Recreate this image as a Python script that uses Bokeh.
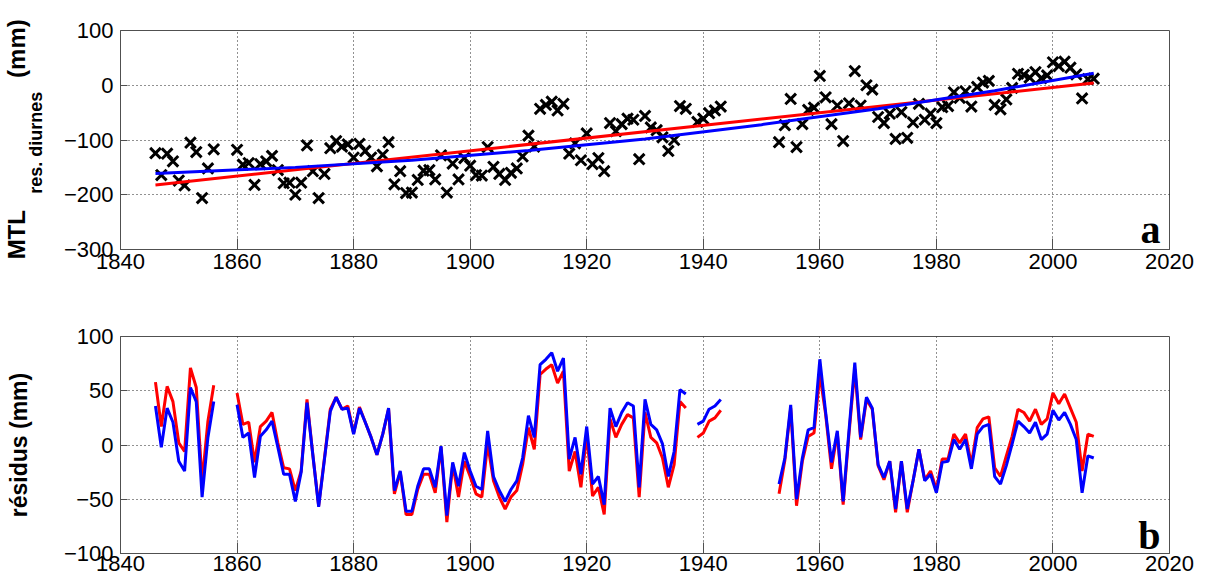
import math
from bokeh.plotting import figure
from bokeh.layouts import column
from bokeh.models import Range1d, FixedTicker, LinearAxis
from bokeh.core.properties import value
from bokeh.embed import file_html
from bokeh.resources import INLINE

NaN = float("nan")

# ---------------- data ----------------
years = list(range(1846, 2008))

# panel a : MTL res. diurnes (mm), one value per year (NaN = missing)
mtl = [
    -124, -164, -125, -139, -174, -183, -105, -122, -206, -152, -117,          # 1846-1856
    NaN, NaN, NaN,                                                             # 1857-1859
    -118, -145, -142, -182, -144, -139, -129, -155, -179, -178,                # 1860-1869
    -200, -178, -110, -157, -206, -162, -115, -102, -112, -108,                # 1870-1879
    -132, -107, -120, -132, -148, -127, -104, -181, -157, -197,                # 1880-1889
    -196, -173, -156, -155, -172, -128, -196, -143, -172, -133,                # 1890-1899
    -147, -164, -165, -113, -149, -162, -173, -160, -152, -130,                # 1900-1909
    -92, -112, -43, -36, -30, -46, -34, -125, -106, -137,                      # 1910-1919
    -88, -144, -133, -157, -69, -84, -71, -61, -63, -135,                      # 1920-1929
    -56, -77, -82, -95, -120, -100, -38, -43, NaN, -67,                        # 1930-1939
    -61, -51, -46, -39, NaN, NaN, NaN, NaN, NaN, NaN,                          # 1940-1949
    NaN, NaN, NaN, -104, -73, -25, -113, -71, -45, -41,                        # 1950-1959
    17, -22, -71, -37, -102, -33, 26, -37, 0, -8,                              # 1960-1969
    -58, -69, -52, -98, -49, -96, -68, -34, -63, -52,                          # 1970-1979
    -69, -40, -38, -13, -23, -11, -39, -3, 5, 8,                               # 1980-1989
    -36, -44, -26, -5, 21, 19, 14, 24, 13, 18,                                 # 1990-1999
    42, 35, 43, 32, 20, -24, 11, 12,                                           # 2000-2007
]

# trend lines of panel a
red_trend_years = [1846, 2007]
red_trend_vals = [-182, 4]
blue_trend_years = [1846, 1870, 1890, 1910, 1930, 1950, 1970, 1990, 2007]
blue_trend_vals = [-161, -150, -137, -119, -98, -72, -43, -10, 22]

# panel b : residuals (mm)
resid_red = [
    58, 17, 54, 40, 2, -6, 71, 53, -34, 22, 55,                                # 1846-1856
    NaN, NaN, NaN,
    48, 19, 21, -16, 17, 22, 30, 2, -21, -22,                                  # 1860-1869
    -42, -24, 42, -9, -56, -12, 33, 44, 33, 36,                                # 1870-1879
    11, 35, 21, 7, -9, 10, 33, -45, -25, -64,                                  # 1880-1889
    -64, -41, -27, -27, -44, -2, -71, -18, -48, -15,                           # 1890-1899
    -29, -45, -48, 1, -33, -48, -59, -48, -42, -18,                            # 1900-1909
    16, -4, 65, 70, 74, 57, 68, -24, -6, -39,                                  # 1910-1919
    10, -47, -39, -64, 24, 7, 19, 28, 25, -48,                                 # 1920-1929
    30, 7, 2, -12, -39, -18, 40, 34, NaN, 7,                                   # 1930-1939
    11, 22, 25, 32, NaN, NaN, NaN, NaN, NaN, NaN,                              # 1940-1949
    NaN, NaN, NaN, -45, -14, 34, -56, -15, 8, 11,                              # 1950-1959
    65, 28, -22, 11, -55, 10, 70, 5, 42, 33,                                   # 1960-1969
    -19, -32, -15, -62, -15, -62, -33, -4, -32, -24,                           # 1970-1979
    -41, -13, -13, 10, 2, 10, -18, 16, 24, 26,                                 # 1980-1989
    -21, -29, -10, 8, 33, 30, 22, 33, 19, 24,                                  # 1990-1999
    48, 38, 47, 34, 21, -24, 10, 8,                                            # 2000-2007
]
resid_blue = [
    36, -2, 34, 21, -15, -24, 53, 40, -48, 7, 40,                              # 1846-1856
    NaN, NaN, NaN,
    37, 7, 11, -30, 8, 14, 22, -2, -27, -27,                                   # 1860-1869
    -52, -25, 39, -9, -57, -13, 31, 44, 33, 34,                                # 1870-1879
    10, 34, 21, 7, -9, 10, 34, -42, -24, -61,                                  # 1880-1889
    -61, -38, -22, -22, -39, -1, -65, -16, -38, -7,                            # 1890-1899
    -24, -38, -41, 13, -29, -42, -52, -41, -33, -12,                           # 1900-1909
    27, 7, 74, 79, 85, 68, 80, -13, 7, -27,                                    # 1910-1919
    17, -36, -29, -55, 34, 17, 30, 39, 36, -39,                                # 1920-1929
    42, 19, 14, 1, -29, -6, 51, 47, NaN, 19,                                   # 1930-1939
    22, 33, 36, 42, NaN, NaN, NaN, NaN, NaN, NaN,                              # 1940-1949
    NaN, NaN, NaN, -36, -12, 37, -50, -12, 14, 16,                             # 1950-1959
    79, 30, -16, 13, -52, 13, 76, 7, 44, 34,                                   # 1960-1969
    -18, -30, -15, -59, -15, -59, -33, -4, -33, -27,                           # 1970-1979
    -44, -16, -15, 5, -4, 5, -22, 10, 17, 19,                                  # 1980-1989
    -29, -36, -19, 1, 22, 17, 11, 21, 5, 10,                                   # 1990-1999
    32, 23, 30, 19, 5, -44, -10, -12,                                          # 2000-2007
]

x_ticks = [1840, 1860, 1880, 1900, 1920, 1940, 1960, 1980, 2000, 2020]
ya_ticks = [-300, -200, -100, 0, 100]
yb_ticks = [-100, -50, 0, 50, 100]

# ---------------- layout constants (screen pixels) ----------------
W = 1203
LEFT, RIGHT = 118, 1203 - 1169
H1, TOP1, BOT1 = 298, 30, 298 - 249
H2, TOP2 = 284, 336 - 298
BOT2 = H1 + H2 - 553
XMIN, XMAX = 1840, 2020
FONT = "Liberation Sans"
AXC = "#505050"


def style(p, yticks, xstand):
    p.xaxis.ticker = FixedTicker(ticks=x_ticks)
    p.yaxis.ticker = FixedTicker(ticks=yticks)
    for ax in (p.xaxis[0], p.yaxis[0]):
        ax.major_label_text_font = FONT
        ax.major_label_text_font_size = "22px"
        ax.major_label_text_color = "black"
        ax.axis_line_color = AXC
        ax.major_tick_line_color = AXC
        ax.major_tick_out = 0
        ax.minor_tick_line_color = None
    p.xaxis.major_tick_in = 11
    p.yaxis.major_tick_in = 7
    p.xaxis.major_label_standoff = xstand
    p.yaxis.major_label_standoff = 7
    for g in (p.xgrid[0], p.ygrid[0]):
        g.grid_line_color = "#222222"
        g.grid_line_dash = "1 3"
        g.grid_line_width = 1
    p.outline_line_color = AXC
    p.outline_line_width = 1
    p.background_fill_color = "white"
    p.border_fill_color = "white"


def title_axis(p, ticks, texts, size, standoff):
    # an invisible extra left axis whose (vertical) tick labels form the y title
    ax = LinearAxis(ticker=FixedTicker(ticks=ticks),
                    major_label_overrides=dict(zip(ticks, texts)),
                    major_label_orientation="vertical",
                    major_label_standoff=standoff,
                    major_label_text_font=FONT,
                    major_label_text_font_style="bold",
                    major_label_text_font_size=size,
                    major_label_text_color="black",
                    axis_line_color=None, major_tick_line_color=None,
                    minor_tick_line_color=None, major_tick_in=0, major_tick_out=0)
    p.add_layout(ax, "left")
    return ax


# ---------------- panel a ----------------
p1 = figure(width=W, height=H1, output_backend="svg", toolbar_location=None,
            x_range=Range1d(XMIN, XMAX), y_range=Range1d(-300, 100),
            min_border_left=LEFT, min_border_right=RIGHT,
            min_border_top=TOP1, min_border_bottom=BOT1)
style(p1, ya_ticks, 4)
p1.scatter(years, mtl, marker="x", size=15, line_width=3, color="black")
p1.line(red_trend_years, red_trend_vals, line_color="#ff0000", line_width=3)
p1.line(blue_trend_years, blue_trend_vals, line_color="#0000ff", line_width=3)

fw = W - LEFT - RIGHT
fh1 = H1 - TOP1 - BOT1


def dx(px):
    return XMIN + (px - LEFT) * (XMAX - XMIN) / fw


def dy1(py):
    return 100 - (py - TOP1) * 400 / fh1


# y title "MTL_res. diurnes (mm)" built from vertical tick labels
title_axis(p1, [round(dy1(142.5))], ["res. diurnes"], "18px", 14)
title_axis(p1, [round(dy1(234)), round(dy1(48))], ["MTL", "(mm)"], "24px", -7)

p1.text(x=[dx(1160)], y=[dy1(229)], text=["a"], text_align="right",
        text_baseline="middle", text_font=value("Liberation Serif"),
        text_font_style="bold", text_font_size="40px", text_color="black")

# ---------------- panel b ----------------
p2 = figure(width=W, height=H2, output_backend="svg", toolbar_location=None,
            x_range=Range1d(XMIN, XMAX), y_range=Range1d(-100, 100),
            min_border_left=LEFT, min_border_right=RIGHT,
            min_border_top=TOP2, min_border_bottom=BOT2)
style(p2, yb_ticks, 2)
p2.line(years, resid_red, line_color="#ff0000", line_width=3)
p2.line(years, resid_blue, line_color="#0000ff", line_width=3)
p2.yaxis.axis_label = "résidus (mm)"
p2.yaxis.axis_label_text_font = FONT
p2.yaxis.axis_label_text_font_style = "bold"
p2.yaxis.axis_label_text_font_size = "23px"
p2.yaxis.axis_label_text_color = "black"
p2.yaxis.axis_label_standoff = 29

fh2 = H2 - TOP2 - BOT2


def dy2(py):
    return 100 - (py - H1 - TOP2) * 200 / fh2


p2.text(x=[dx(1160)], y=[dy2(535)], text=["b"], text_align="right",
        text_baseline="middle", text_font=value("Liberation Serif"),
        text_font_style="bold", text_font_size="40px", text_color="black")

page = column(p1, p2, spacing=0)
open("out.html", "w").write(file_html(page, INLINE))
